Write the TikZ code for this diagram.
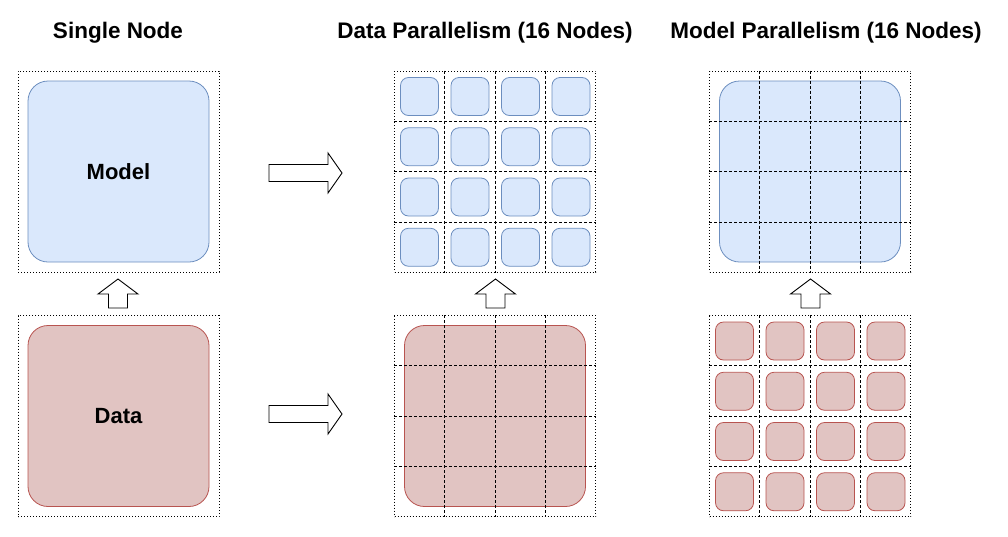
\documentclass[tikz,border=0pt]{standalone}
\usepackage{fontspec}
\setmainfont{Liberation Sans}
\usetikzlibrary{calc}

\definecolor{fondbleu}{HTML}{DAE8FC}
\definecolor{bordbleu}{HTML}{6C8EBF}
\definecolor{fondrouge}{HTML}{E1C4C2}
\definecolor{bordrouge}{HTML}{B85450}

% Fleches pleines
\newcommand{\flechedroite}[2]{%
  \draw[line width=0.9pt,fill=white] (#1,#2) ++(0,-8.5) -- ++(59,0) -- ++(0,-11.5)
    -- ++(14,20) -- ++(-14,20) -- ++(0,-11.5) -- ++(-59,0) -- cycle;}
\newcommand{\flechehaut}[2]{%
  \draw[line width=0.9pt,fill=white] (#1,#2) ++(-9.5,0) -- ++(0,-14) -- ++(-10.5,0)
    -- ++(20,-15) -- ++(20,15) -- ++(-10.5,0) -- ++(0,14) -- cycle;}

\begin{document}
\begin{tikzpicture}[x=1pt,y=-1pt,
  cadre/.style={draw,line width=1pt,dash pattern=on 1pt off 2pt,
    minimum width=201pt,minimum height=201pt,inner sep=0pt},
  grille/.style={line width=1pt,dash pattern=on 3pt off 2pt},
  modele/.style={draw=bordbleu,fill=fondbleu,line width=0.8pt,rounded corners=20pt,
    minimum size=181pt,inner sep=0pt,font=\fontsize{22}{26}\selectfont\bfseries},
  donnees/.style={modele,draw=bordrouge,fill=fondrouge},
  petitmodele/.style={draw=bordbleu,fill=fondbleu,line width=0.8pt,rounded corners=8pt,
    minimum size=38pt,inner sep=0pt},
  petitdonnees/.style={petitmodele,draw=bordrouge,fill=fondrouge},
  titre/.style={font=\fontsize{22.5}{26}\selectfont\bfseries,anchor=base}]

\useasboundingbox (0,0) rectangle (1008,536);

% Titres
\node[titre] (t1) at (118,38) {Single Node};
\node[titre] (t2) at (485,38) {Data Parallelism (16 Nodes)};
\node[titre] (t3) at (826,38) {Model Parallelism (16 Nodes)};

% Cadres
\node[cadre] (c1h) at (118.5,171.5) {};
\node[cadre] (c1b) at (118.5,416) {};
\node[cadre] (c2h) at (495,171.5) {};
\node[cadre] (c2b) at (495,416) {};
\node[cadre] (c3h) at (810,171.5) {};
\node[cadre] (c3b) at (810,416) {};

% Noeud unique
\node[modele] (m1) at (c1h) {Model};
\node[donnees] (d1) at (c1b) {Data};

% Parallelisme de donnees
\foreach \i in {0,...,3}
  \foreach \j in {0,...,3}
    \node[petitmodele] (m2\i\j) at (419.5+50.5*\i,96.5+50.25*\j) {};
\node[donnees] (d2) at (c2b) {};

% Parallelisme de modele
\node[modele] (m3) at (c3h) {};
\foreach \i in {0,...,3}
  \foreach \j in {0,...,3}
    \node[petitdonnees] (d3\i\j) at (734.5+50.5*\i,341+50.25*\j) {};

% Grilles
\foreach \c in {c2h,c2b,c3h,c3b}
  \foreach \f in {0.25,0.5,0.75} {
    \draw[grille] ($(\c.north west)!\f!(\c.north east)$) -- ($(\c.south west)!\f!(\c.south east)$);
    \draw[grille] ($(\c.north west)!\f!(\c.south west)$) -- ($(\c.north east)!\f!(\c.south east)$);
  }

% Fleches
\flechedroite{269}{173}
\flechedroite{269}{414}
\flechehaut{118}{308}
\flechehaut{495.5}{308}
\flechehaut{810.5}{308}

\end{tikzpicture}
\end{document}
